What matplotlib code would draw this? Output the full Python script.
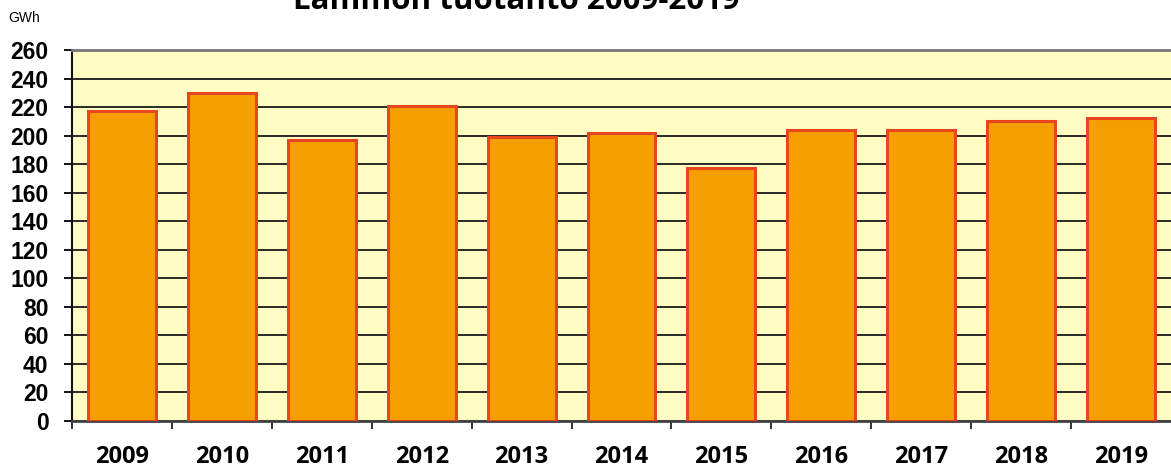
import numpy as np
import matplotlib.pyplot as plt

# heat production per year (GWh)
years = ['2009', '2010', '2011', '2012', '2013', '2014', '2015', '2016', '2017', '2018', '2019']
values = [217, 230, 197, 221, 199, 202, 177, 204, 204, 210, 212]
y_ticks = list(range(0, 261, 20))

fig = plt.figure(figsize=(11.71, 4.73), dpi=100)
ax = fig.add_axes([72/1171, 52/473, 1 - 72/1171, 371/473])
ax.set_facecolor('#FFFDC4')

x = np.arange(len(years))
ax.bar(x, values, width=0.68, color='#F59E00', edgecolor='#E8461E', linewidth=2.2, zorder=3)

ax.set_xlim(-0.5, len(years) - 0.5)
ax.set_ylim(0, 260)

# horizontal grid lines every 20
ax.set_yticks(y_ticks)
ax.set_yticklabels([str(v) for v in y_ticks], fontfamily='Liberation Sans', fontweight='bold', fontsize=16.5)
ax.yaxis.grid(True, color='#1a1a1a', linewidth=1.3, zorder=1)
ax.tick_params(axis='y', length=6, width=1.3, pad=11, direction='out')

# year labels at centres, tick marks at category boundaries
ax.set_xticks(x)
ax.set_xticklabels(years, fontfamily='Open Sans', fontweight='bold', fontsize=17)
ax.tick_params(axis='x', which='major', length=0, pad=17)
ax.set_xticks(np.arange(-0.5, len(years) - 0.5, 1), minor=True)
ax.tick_params(axis='x', which='minor', length=6, width=1.3, direction='out', color='#222222')

ax.set_axisbelow(True)
ax.spines['right'].set_visible(False)
ax.spines['top'].set_color('#777777')
ax.spines['top'].set_linewidth(2)
ax.spines['left'].set_color('#111111')
ax.spines['left'].set_linewidth(1.5)
ax.spines['bottom'].set_color('#444444')
ax.spines['bottom'].set_linewidth(2)

fig.text(8/1171, 1 - 22/473, 'GWh', fontfamily='Liberation Sans', fontsize=10, va='baseline', ha='left')
# title is cut off at the top edge in the reference
fig.text(516/1171, 1 - 9/473, 'Lämmön tuotanto 2009-2019', fontfamily='Open Sans', fontweight='bold',
         fontsize=22.5, ha='center', va='baseline')

fig.savefig('out.png', dpi=100)
